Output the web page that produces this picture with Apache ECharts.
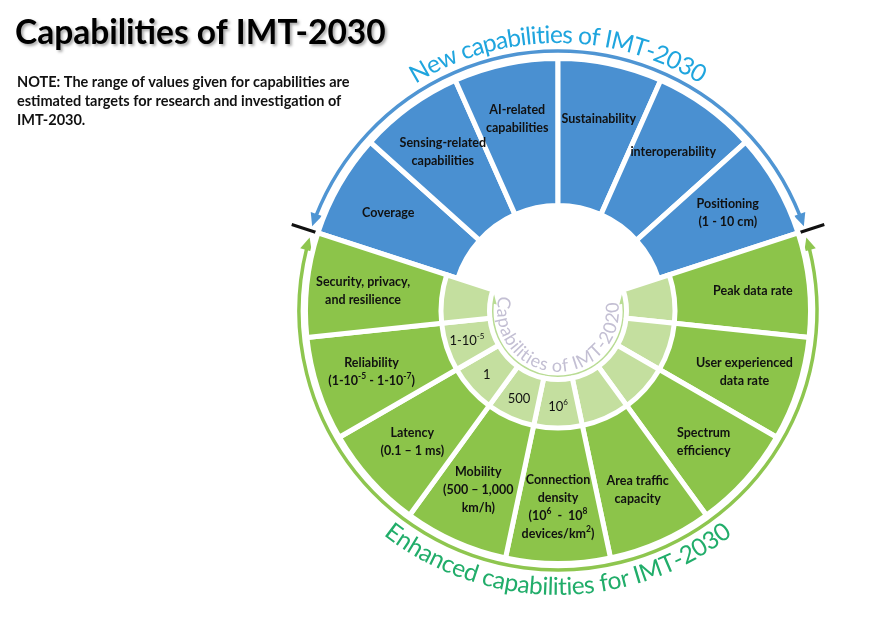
<!DOCTYPE html>
<html><head><meta charset="utf-8">
<script src="https://cdn.jsdelivr.net/npm/echarts@6/dist/echarts.min.js"></script>
<style>html,body{margin:0;padding:0;background:#fff}#c{width:890px;height:619px}</style>
</head><body><div id="c"></div>
<script>
// ---- data ----
const newCapabilities = ['Coverage', 'Sensing-related\ncapabilities', 'AI-related\ncapabilities', 'Sustainability', 'interoperability', 'Positioning\n(1 - 10 cm)'];
const enhancedCapabilities = ['Peak data rate', 'User experienced\ndata rate', 'Spectrum\nefficiency', 'Area traffic\ncapacity',
  'Connection\ndensity\n(10{sup|6}  -  10{sup|8}\ndevices/km{sup|2})', 'Mobility\n(500 – 1,000\nkm/h)', 'Latency\n(0.1 – 1 ms)',
  'Reliability\n(1-10{sup|-5} - 1-10{sup|-7})', 'Security, privacy,\nand resilience'];
const imt2020Values = ['', '', '', '', '10{sup|6}', '500', '1', '1-10{sup|-5}', ''];
const segmentWeights = [1, 1, 1, 1, 1, 1, 1, 1, 1, 1, 1, 1, 1, 1, 1];
const titleText = 'Capabilities of IMT-2030';
const noteText = 'NOTE: The range of values given for capabilities are\nestimated targets for research and investigation of\nIMT-2030.';
const topArcText = 'New capabilities of IMT-2030';
const bottomArcText = 'Enhanced capabilities for IMT-2030';
const centerArcText = 'Capabilities of IMT-2020';

// ---- style ----
const FONT = 'Lato';
const CX = 558, CY = 311;
const BLUE = '#4a90d1', GREEN = '#8cc44a', LIGHT = '#c4df9f';
const NONE = 'rgba(0,0,0,0)';
const labels = newCapabilities.concat(enhancedCapabilities);
const isNew = labels.map((_, i) => i < newCapabilities.length);
const innerVals = newCapabilities.map(() => '').concat(imt2020Values);

const supRich = (w, fs) => ({ sup: { fontSize: fs, fontFamily: FONT, fontWeight: w, color: '#111', lineHeight: 10, verticalAlign: 'top' } });

function ringData(colorFn, labelFn) {
  return segmentWeights.map((v, i) => {
    const c = colorFn(i);
    return {
      value: v, name: 'seg' + i,
      itemStyle: c ? { color: c, borderColor: '#fff', borderWidth: 5 } : { color: NONE, borderWidth: 0 },
      label: labelFn ? { show: !!labelFn(i), formatter: labelFn(i) || '' } : { show: false }
    };
  });
}
const basePie = {
  type: 'pie', center: [CX, CY], startAngle: 162, clockwise: true, silent: true,
  animation: false, avoidLabelOverlap: false, labelLine: { show: false }, emphasis: { disabled: true }
};

const series = [
  Object.assign({}, basePie, { radius: [105.5, 252.5], data: ringData(i => isNew[i] ? BLUE : null), label: { show: false } }),
  Object.assign({}, basePie, { radius: [114.5, 252.5], data: ringData(i => isNew[i] ? null : GREEN), label: { show: false } }),
  Object.assign({}, basePie, {
    radius: [68.5, 117], data: ringData(i => isNew[i] ? null : LIGHT, i => innerVals[i]),
    label: { position: 'inside', rotate: 0, fontFamily: FONT, fontSize: 13, color: '#111', lineHeight: 16, rich: supRich('normal', 8) }
  }),
  Object.assign({}, basePie, {
    radius: [136, 250], data: ringData(() => null, i => labels[i]),
    label: { position: 'inside', rotate: 0, fontFamily: FONT, fontWeight: 'bold', fontSize: 12.5, color: '#111', lineHeight: 18, align: 'center', rich: supRich('bold', 8.5) }
  })
];

// ---- decorations ----
const mctx = document.createElement('canvas').getContext('2d');
function arcText(str, r, thCenter, spanDeg, size, weight, color, outward) {
  const font = weight + ' ' + size + 'px ' + FONT;
  mctx.font = font;
  const chars = Array.from(str);
  const w = chars.map(ch => mctx.measureText(ch).width);
  const total = w.reduce((a, b) => a + b, 0);
  const spanLen = spanDeg * Math.PI / 180 * r;
  const extra = (spanLen - total) / (chars.length - 1 + 1e-9);
  const dir = outward ? -1 : 1;
  const start = thCenter - dir * spanDeg / 2;
  let s = 0; const els = [];
  chars.forEach((ch, i) => {
    const sc = s + w[i] / 2;
    const th = start + dir * (sc / r) * 180 / Math.PI;
    const t = th * Math.PI / 180;
    els.push({
      type: 'text', x: CX + r * Math.cos(t), y: CY - r * Math.sin(t),
      rotation: ((outward ? th - 90 : th - 270) * Math.PI / 180), silent: true,
      style: { text: ch, fontFamily: FONT, fontSize: size, fontWeight: weight, fill: color, align: 'center', verticalAlign: 'middle' }
    });
    s += w[i] + extra;
  });
  return els;
}
function arrowHead(r, thDeg, sign, len, wid, color) {
  const t = thDeg * Math.PI / 180;
  const tip = [CX + r * Math.cos(t), CY - r * Math.sin(t)];
  const d = [-Math.sin(t) * sign, -Math.cos(t) * sign];
  const n = [Math.cos(t), -Math.sin(t)];
  const b = [tip[0] - d[0] * len, tip[1] - d[1] * len];
  return { type: 'polygon', silent: true, shape: { points: [tip, [b[0] + n[0] * wid / 2, b[1] + n[1] * wid / 2], [b[0] - n[0] * wid / 2, b[1] - n[1] * wid / 2]] }, style: { fill: color } };
}
function arc(r, thFrom, thTo, color, lw) {
  return { type: 'arc', silent: true, shape: { cx: CX, cy: CY, r: r, startAngle: -thTo * Math.PI / 180, endAngle: -thFrom * Math.PI / 180, clockwise: true },
    style: { stroke: color, lineWidth: lw, fill: null } };
}
function tick(thDeg) {
  const t = thDeg * Math.PI / 180;
  return { type: 'line', silent: true, shape: { x1: CX + 246 * Math.cos(t), y1: CY - 246 * Math.sin(t), x2: CX + 280 * Math.cos(t), y2: CY - 280 * Math.sin(t) }, style: { stroke: '#111', lineWidth: 3 } };
}
const ABLUE = '#4f95d3', AGREEN = '#8ec64f', ALIGHT = '#b9dc94';
const graphics = [
  arc(260, 21.5, 158.5, ABLUE, 3.5),
  arrowHead(260, 161, 1, 13, 12, ABLUE), arrowHead(260, 19, -1, 13, 12, ABLUE),
  arc(259, 166, 374, AGREEN, 3.5),
  arrowHead(259, 163.5, -1, 13, 12, AGREEN), arrowHead(259, 376.5, 1, 13, 12, AGREEN),
  arc(66, 169, 371, ALIGHT, 3),
  arrowHead(66, 165.5, -1, 9, 10, ALIGHT), arrowHead(66, 374.5, 1, 9, 10, ALIGHT),
  tick(162), tick(18)
].concat(
  arcText(topArcText, 276, 90, 64, 24.5, 'normal', '#1fa5de', true),
  arcText(bottomArcText, 276, 270, 76, 24.5, 'normal', '#21ad6a', false),
  arcText(centerArcText, 55, 267, 204, 18, 'normal', '#c3bfd3', false)
);

const chart = echarts.init(document.getElementById('c'), null, { renderer: 'canvas' });
chart.setOption({
  backgroundColor: '#fff',
  animation: false,
  title: [
    { text: titleText, left: 10, top: 11, textStyle: { fontFamily: FONT, fontWeight: 'bold', fontSize: 33.5, color: '#000',
      textShadowColor: 'rgba(0,0,0,0.35)', textShadowBlur: 3, textShadowOffsetX: 2, textShadowOffsetY: 2 } },
    { text: noteText, left: 12, top: 68, textStyle: { fontFamily: FONT, fontWeight: 'bold', fontSize: 14.5, lineHeight: 19, color: '#111' } }
  ],
  series: series,
  graphic: { elements: graphics }
});
</script></body></html>
